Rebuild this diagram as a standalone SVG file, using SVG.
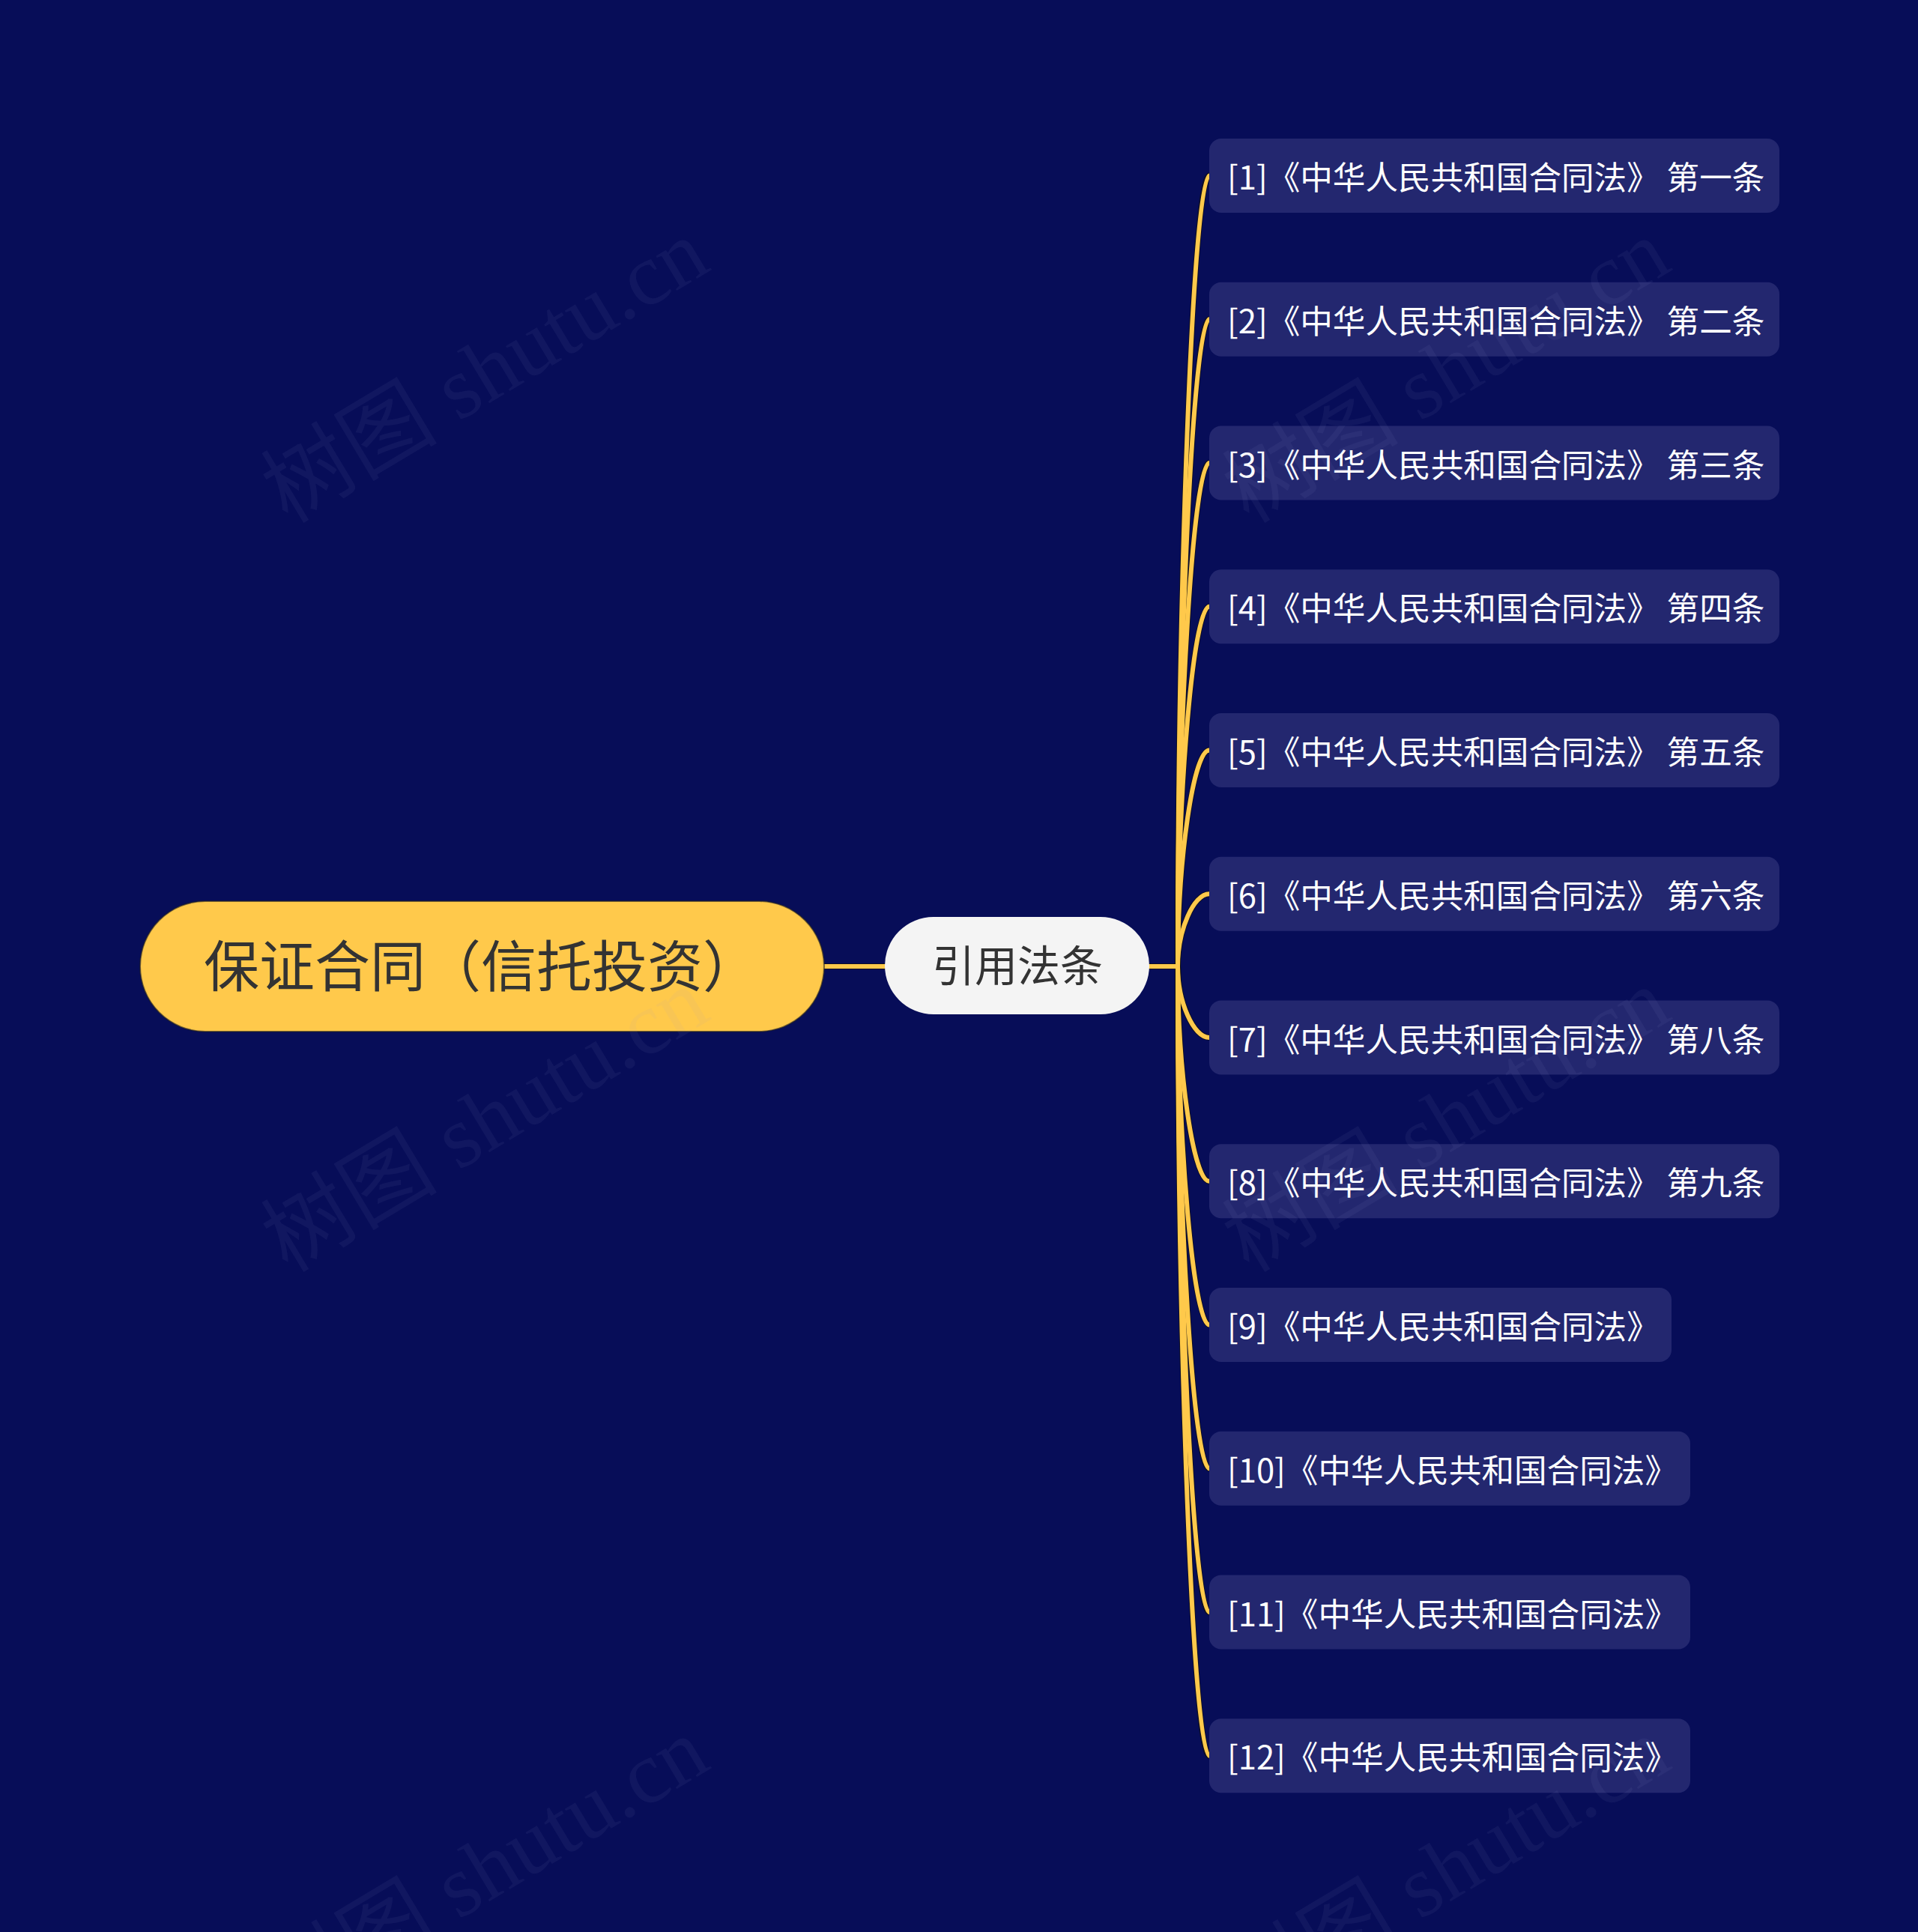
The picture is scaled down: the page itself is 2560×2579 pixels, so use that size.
<svg xmlns="http://www.w3.org/2000/svg" width="2560" height="2579" viewBox="0 0 2560 2579">
<style>
.leaf rect{fill:#23276f;}
.leaf text{fill:#ffffff;font-family:"Noto Sans CJK SC","Noto Sans",sans-serif;font-size:43.6px;}
.edge-under{fill:none;stroke:#111111;stroke-opacity:0.7;stroke-width:8;stroke-linecap:round;}
.edge{fill:none;stroke:#ffc94b;stroke-width:6;stroke-linecap:round;}
.wm{fill:#9aa0d0;fill-opacity:0.07;font-family:"Liberation Serif","Noto Sans CJK SC",serif;font-size:118px;}
</style>
<rect x="0" y="0" width="2560" height="2579" fill="#070d58"/>

<g id="connectors">
  <g class="edge-under">
    <path d="M1100 1290 H1181"/>
    <path d="M1534 1290 H1572"/>
    <path d="M1572 1290 C1572 762.3 1593 234.5 1614 234.5"/>
    <path d="M1572 1290 C1572 858.1 1593 426.25 1614 426.25"/>
    <path d="M1572 1290 C1572 954 1593 618 1614 618"/>
    <path d="M1572 1290 C1572 1049.9 1593 809.75 1614 809.75"/>
    <path d="M1572 1290 C1572 1145.8 1593 1001.5 1614 1001.5"/>
    <path d="M1572 1290 C1572 1241.6 1593 1193.25 1614 1193.25"/>
    <path d="M1572 1290 C1572 1337.5 1593 1385 1614 1385"/>
    <path d="M1572 1290 C1572 1433.4 1593 1576.75 1614 1576.75"/>
    <path d="M1572 1290 C1572 1529.3 1593 1768.5 1614 1768.5"/>
    <path d="M1572 1290 C1572 1625.1 1593 1960.25 1614 1960.25"/>
    <path d="M1572 1290 C1572 1721 1593 2152 1614 2152"/>
    <path d="M1572 1290 C1572 1816.9 1593 2343.75 1614 2343.75"/>
  </g>
  <g class="edge">
    <path d="M1100 1290 H1181"/>
    <path d="M1534 1290 H1572"/>
    <path d="M1572 1290 C1572 762.3 1593 234.5 1614 234.5"/>
    <path d="M1572 1290 C1572 858.1 1593 426.25 1614 426.25"/>
    <path d="M1572 1290 C1572 954 1593 618 1614 618"/>
    <path d="M1572 1290 C1572 1049.9 1593 809.75 1614 809.75"/>
    <path d="M1572 1290 C1572 1145.8 1593 1001.5 1614 1001.5"/>
    <path d="M1572 1290 C1572 1241.6 1593 1193.25 1614 1193.25"/>
    <path d="M1572 1290 C1572 1337.5 1593 1385 1614 1385"/>
    <path d="M1572 1290 C1572 1433.4 1593 1576.75 1614 1576.75"/>
    <path d="M1572 1290 C1572 1529.3 1593 1768.5 1614 1768.5"/>
    <path d="M1572 1290 C1572 1625.1 1593 1960.25 1614 1960.25"/>
    <path d="M1572 1290 C1572 1721 1593 2152 1614 2152"/>
    <path d="M1572 1290 C1572 1816.9 1593 2343.75 1614 2343.75"/>
  </g>
</g>

<g id="root">
  <rect x="187" y="1203" width="913" height="174" rx="87" fill="#ffc94b" stroke="#222222" stroke-opacity="0.6" stroke-width="2"/>
  <text x="272" y="1317" font-family="Noto Sans CJK SC, sans-serif" font-size="74" fill="#333333">保证合同（信托投资）</text>
</g>

<g id="mid">
  <rect x="1181" y="1224" width="353" height="130" rx="65" fill="#f4f4f4"/>
  <text x="1358" y="1310" text-anchor="middle" font-family="Noto Sans CJK SC, sans-serif" font-size="57" fill="#333333">引用法条</text>
</g>

<g id="leaf1" class="leaf"><rect x="1614" y="185" width="761" height="99" rx="16"/><text x="1638" y="253">[1]《中华人民共和国合同法》 第一条</text></g>
<g id="leaf2" class="leaf"><rect x="1614" y="376.75" width="761" height="99" rx="16"/><text x="1638" y="444.75">[2]《中华人民共和国合同法》 第二条</text></g>
<g id="leaf3" class="leaf"><rect x="1614" y="568.5" width="761" height="99" rx="16"/><text x="1638" y="636.5">[3]《中华人民共和国合同法》 第三条</text></g>
<g id="leaf4" class="leaf"><rect x="1614" y="760.25" width="761" height="99" rx="16"/><text x="1638" y="828.25">[4]《中华人民共和国合同法》 第四条</text></g>
<g id="leaf5" class="leaf"><rect x="1614" y="952" width="761" height="99" rx="16"/><text x="1638" y="1020">[5]《中华人民共和国合同法》 第五条</text></g>
<g id="leaf6" class="leaf"><rect x="1614" y="1143.75" width="761" height="99" rx="16"/><text x="1638" y="1211.75">[6]《中华人民共和国合同法》 第六条</text></g>
<g id="leaf7" class="leaf"><rect x="1614" y="1335.5" width="761" height="99" rx="16"/><text x="1638" y="1403.5">[7]《中华人民共和国合同法》 第八条</text></g>
<g id="leaf8" class="leaf"><rect x="1614" y="1527.25" width="761" height="99" rx="16"/><text x="1638" y="1595.25">[8]《中华人民共和国合同法》 第九条</text></g>
<g id="leaf9" class="leaf"><rect x="1614" y="1719" width="617" height="99" rx="16"/><text x="1638" y="1787">[9]《中华人民共和国合同法》</text></g>
<g id="leaf10" class="leaf"><rect x="1614" y="1910.75" width="642" height="99" rx="16"/><text x="1638" y="1978.75">[10]《中华人民共和国合同法》</text></g>
<g id="leaf11" class="leaf"><rect x="1614" y="2102.5" width="642" height="99" rx="16"/><text x="1638" y="2170.5">[11]《中华人民共和国合同法》</text></g>
<g id="leaf12" class="leaf"><rect x="1614" y="2294.25" width="642" height="99" rx="16"/><text x="1638" y="2362.25">[12]《中华人民共和国合同法》</text></g>

<g id="watermarks">
  <text class="wm" transform="translate(384 700) rotate(-31)">树图 shutu.cn</text>
  <text class="wm" transform="translate(384 1700) rotate(-31)">树图 shutu.cn</text>
  <text class="wm" transform="translate(384 2700) rotate(-31)">树图 shutu.cn</text>
  <text class="wm" transform="translate(1667 700) rotate(-31)">树图 shutu.cn</text>
  <text class="wm" transform="translate(1667 1700) rotate(-31)">树图 shutu.cn</text>
  <text class="wm" transform="translate(1667 2700) rotate(-31)">树图 shutu.cn</text>
</g>
</svg>
